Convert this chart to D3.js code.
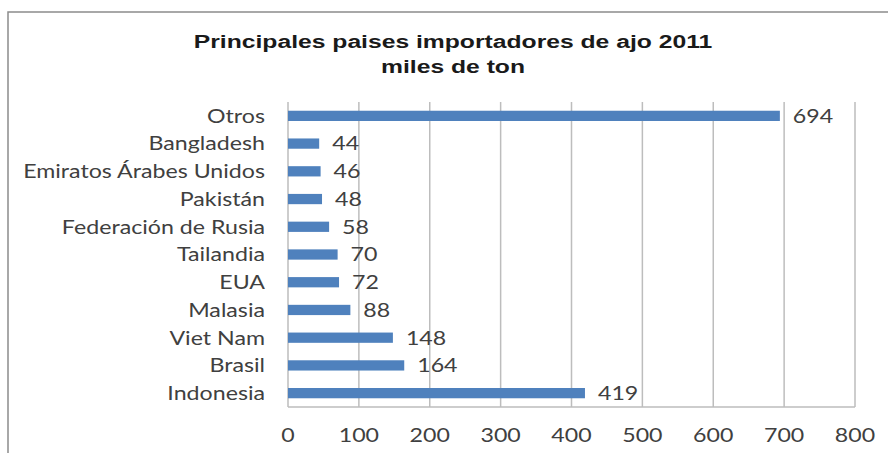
<!DOCTYPE html>
<html><head><meta charset="utf-8">
<script src="https://cdn.jsdelivr.net/npm/d3@7"></script>
<style>body{margin:0;background:#fff;}svg{display:block;}</style>
</head><body>
<script>
const categories = ["Otros","Bangladesh","Emiratos Árabes Unidos","Pakistán","Federación de Rusia","Tailandia","EUA","Malasia","Viet Nam","Brasil","Indonesia"];
const values = [694,44,46,48,58,70,72,88,148,164,419];
const xTicks = [0,100,200,300,400,500,600,700,800];
const titleLines = ["Principales paises importadores de ajo 2011","miles de ton"];

(function(){
const W=888,H=453;
const svg=d3.select("body").append("svg").attr("width",W).attr("height",H);
svg.append("rect").attr("width",W).attr("height",H).attr("fill","#fff");
svg.append("rect").attr("x",8).attr("y",12).attr("width",W+20).attr("height",H+20)
  .attr("fill","none").attr("stroke","#8c8c8c").attr("stroke-width",1.5);

const pL=288,pR=855,pT=102,pB=407;
const x=d3.scaleLinear().domain([0,800]).range([pL,pR]);
const y=d3.scaleBand().domain(categories).range([pT,pB]).paddingInner(0.63).paddingOuter(0.315);

svg.append("g").selectAll("line").data(xTicks.slice(1)).join("line")
  .attr("x1",d=>x(d)).attr("x2",d=>x(d)).attr("y1",pT).attr("y2",pB)
  .attr("stroke","#bdbdbd").attr("stroke-width",1.5);
svg.append("line").attr("x1",pL).attr("x2",pR).attr("y1",pB).attr("y2",pB).attr("stroke","#bdbdbd").attr("stroke-width",1.5);
svg.append("line").attr("x1",pL).attr("x2",pL).attr("y1",pT).attr("y2",pB).attr("stroke","#bdbdbd").attr("stroke-width",1.5);

svg.append("g").selectAll("rect").data(values).join("rect")
  .attr("x",x(0)).attr("y",(d,i)=>y(categories[i]))
  .attr("width",d=>x(d)-x(0)).attr("height",y.bandwidth())
  .attr("fill","#4f81bd");

const font="Lato, 'Open Sans', sans-serif";
const sx=1.22;
svg.append("g").selectAll("text").data(values).join("text")
  .attr("transform",(d,i)=>`translate(${x(d)+13},${y(categories[i])+y.bandwidth()/2}) scale(${sx},1)`)
  .attr("dy","0.36em").attr("font-family",font).attr("font-size",19).attr("fill","#404040")
  .text(d=>d);

svg.append("g").selectAll("text").data(categories).join("text")
  .attr("transform",d=>`translate(265,${y(d)+y.bandwidth()/2}) scale(${sx},1)`).attr("dy","0.36em")
  .attr("text-anchor","end").attr("font-family",font).attr("font-size",19).attr("fill","#404040")
  .text(d=>d);

svg.append("g").selectAll("text").data(xTicks).join("text")
  .attr("transform",d=>`translate(${x(d)},442) scale(${sx},1)`).attr("text-anchor","middle")
  .attr("font-family",font).attr("font-size",19).attr("fill","#404040")
  .text(d=>d);

svg.append("g").selectAll("text").data(titleLines).join("text")
  .attr("transform",(d,i)=>`translate(453,${48+i*24.5}) scale(1.3,1)`).attr("text-anchor","middle")
  .attr("font-family","'Liberation Sans', Arial, sans-serif").attr("font-weight","bold")
  .attr("font-size",19).attr("fill","#1a1a1a")
  .text(d=>d);
})();
</script>
</body></html>
